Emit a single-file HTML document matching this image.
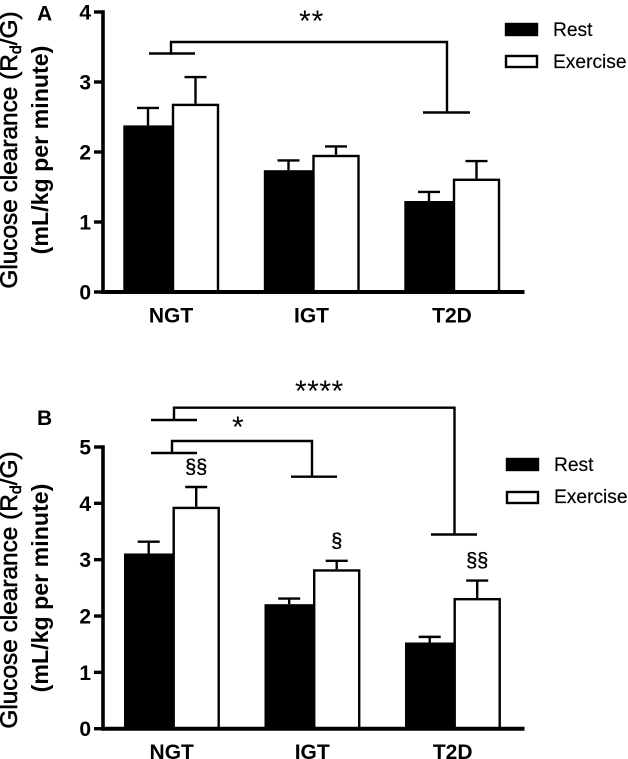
<!DOCTYPE html>
<html>
<head>
<meta charset="utf-8">
<title>Glucose clearance chart</title>
<style>
html,body{margin:0;padding:0;background:#fff;}
svg{display:block;}
text{font-family:"Liberation Sans",Arial,sans-serif;fill:#000;}
.tick{font-size:21px;font-weight:bold;text-anchor:end;}
.cat{font-size:21px;font-weight:bold;text-anchor:middle;}
.leg{font-size:19.2px;stroke:#000;stroke-width:.15px;}
.panel{font-size:21px;font-weight:bold;}
.star{font-size:30px;}
.sec{font-size:20px;text-anchor:middle;stroke:#000;stroke-width:.35px;}
.t1{font-size:24.4px;text-anchor:middle;stroke:#000;stroke-width:.6px;}
.t2{font-size:23.2px;font-weight:bold;text-anchor:middle;}
.br{fill:none;stroke:#000;stroke-width:2.4;}
</style>
</head>
<body>
<svg id="chart" xmlns="http://www.w3.org/2000/svg" width="628" height="759" viewBox="0 0 628 759">
  <rect x="0" y="0" width="628" height="759" fill="#fff"/>

  <text class="panel" x="37" y="20.5">A</text>
  <text class="panel" x="37" y="425">B</text>

  <text class="t1" transform="translate(17,150) rotate(-90)">Glucose clearance (R<tspan font-size="16" dy="4">d</tspan><tspan dy="-4">/G)</tspan></text>
  <text class="t2" transform="translate(48,150) rotate(-90)">(mL/kg per minute)</text>
  <text class="t1" transform="translate(17,590) rotate(-90)">Glucose clearance (R<tspan font-size="16" dy="4">d</tspan><tspan dy="-4">/G)</tspan></text>
  <text class="t2" transform="translate(48,588) rotate(-90)">(mL/kg per minute)</text>

  <path class="br" d="M149 53.5H195M171 53.5V42H447V112.5M423 112.5H470"/>
  <text class="star" x="299" y="31" letter-spacing="1">**</text>

  <path class="br" d="M151 420H197M174 420V407.7H454.5V534.5M431 534.5H477"/>
  <text class="star" x="295" y="401" letter-spacing="0.5">****</text>
  <path class="br" d="M151 453H197M172 453V441H312V476.7M291 476.7H337"/>
  <text class="star" x="232" y="437">*</text>

  <g>
    <rect x="506" y="24" width="31" height="11" fill="#000" stroke="#000" stroke-width="2.4"/>
    <text class="leg" x="553" y="36">Rest</text>
    <rect x="506" y="56" width="31" height="11" fill="#fff" stroke="#000" stroke-width="2.4"/>
    <text class="leg" x="553" y="68">Exercise</text>
  </g>
  <g>
    <rect x="507" y="459" width="31" height="11" fill="#000" stroke="#000" stroke-width="2.4"/>
    <text class="leg" x="554" y="471">Rest</text>
    <rect x="507" y="492" width="31" height="11" fill="#fff" stroke="#000" stroke-width="2.4"/>
    <text class="leg" x="554" y="503">Exercise</text>
  </g>
</svg>
<script>
var categories = ['NGT', 'IGT', 'T2D'];

var ticksA = [0, 1, 2, 3, 4];
var restA = [2.38, 1.74, 1.30];
var restTopA = [2.63, 1.88, 1.43];
var exerciseA = [2.69, 1.96, 1.62];
var exerciseTopA = [3.07, 2.08, 1.87];

var ticksB = [0, 1, 2, 3, 4, 5];
var restB = [3.11, 2.21, 1.53];
var restTopB = [3.32, 2.31, 1.63];
var exerciseB = [3.94, 2.83, 2.32];
var exerciseTopB = [4.29, 2.98, 2.63];
var sectionMarksB = ['§§', '§', '§§'];

var NS = 'http://www.w3.org/2000/svg';
var svg = document.getElementById('chart');

function add(parent, tag, attrs, txt) {
  var el = document.createElementNS(NS, tag);
  for (var k in attrs) { el.setAttribute(k, attrs[k]); }
  if (txt !== undefined) { el.textContent = txt; }
  parent.appendChild(el);
  return el;
}

function drawPanel(id, yZero, yPerUnit, xOrigin, ticks, rest, restTop, exercise, exerciseTop, marks) {
  function yScale(v) { return yZero - v * yPerUnit; }
  function barTop(v) { return yScale(v) + 1.2; }
  function xScale(i) { return xOrigin + 140.5 * i; }

  var g = add(svg, 'g', {});
  
  

  categories.forEach(function (cat, i) {
    var c = xScale(i);

    var rb = add(g, 'rect', { x: c - 46.5, y: barTop(rest[i]), width: 47, height: yZero - barTop(rest[i]), fill: '#000', stroke: '#000', 'stroke-width': 2.4 });
    
    

    var rc = c - 23;
    var re = add(g, 'path', { d: 'M' + rc + ' ' + yScale(rest[i]) + 'V' + yScale(restTop[i]) + 'M' + (rc - 11) + ' ' + yScale(restTop[i]) + 'H' + (rc + 11), fill: 'none', stroke: '#000', 'stroke-width': 2.4 });
    
    

    var ec = c + 24.5;
    var ee = add(g, 'path', { d: 'M' + ec + ' ' + yScale(exercise[i]) + 'V' + yScale(exerciseTop[i]) + 'M' + (ec - 11) + ' ' + yScale(exerciseTop[i]) + 'H' + (ec + 11), fill: 'none', stroke: '#000', 'stroke-width': 2.4 });
    
    

    var eb = add(g, 'rect', { x: c + 2, y: barTop(exercise[i]), width: 45, height: yZero - barTop(exercise[i]), fill: '#fff', stroke: '#000', 'stroke-width': 2.4 });
    
    

    var lab = add(g, 'text', { x: c, y: yZero + 30.5, 'class': 'cat' }, cat);
    
    

    if (marks) {
      var m = add(g, 'text', { x: ec, y: yScale(exerciseTop[i]) - 13.5, 'class': 'sec' }, marks[i]);
      
      
    }
  });

  ticks.forEach(function (t) {
    var tk = add(g, 'line', { x1: 94, x2: 103, y1: yScale(t), y2: yScale(t), stroke: '#000', 'stroke-width': 3.4 });
    
    

    var tl = add(g, 'text', { x: 91, y: yScale(t) + 7.5, 'class': 'tick' }, String(t));
    
    
  });

  var yAxis = add(g, 'line', { x1: 103, x2: 103, y1: yScale(ticks[ticks.length - 1]) - 1.7, y2: yZero + 2, stroke: '#000', 'stroke-width': 3.6 });
  
  

  var xAxis = add(g, 'line', { x1: 103, x2: 524.5, y1: yZero, y2: yZero, stroke: '#000', 'stroke-width': 4 });
  
  
}

drawPanel('panel-a', 292, 70, 171, ticksA, restA, restTopA, exerciseA, exerciseTopA, null);
drawPanel('panel-b', 728.7, 56.34, 171.7, ticksB, restB, restTopB, exerciseB, exerciseTopB, sectionMarksB);
</script>
</body>
</html>
